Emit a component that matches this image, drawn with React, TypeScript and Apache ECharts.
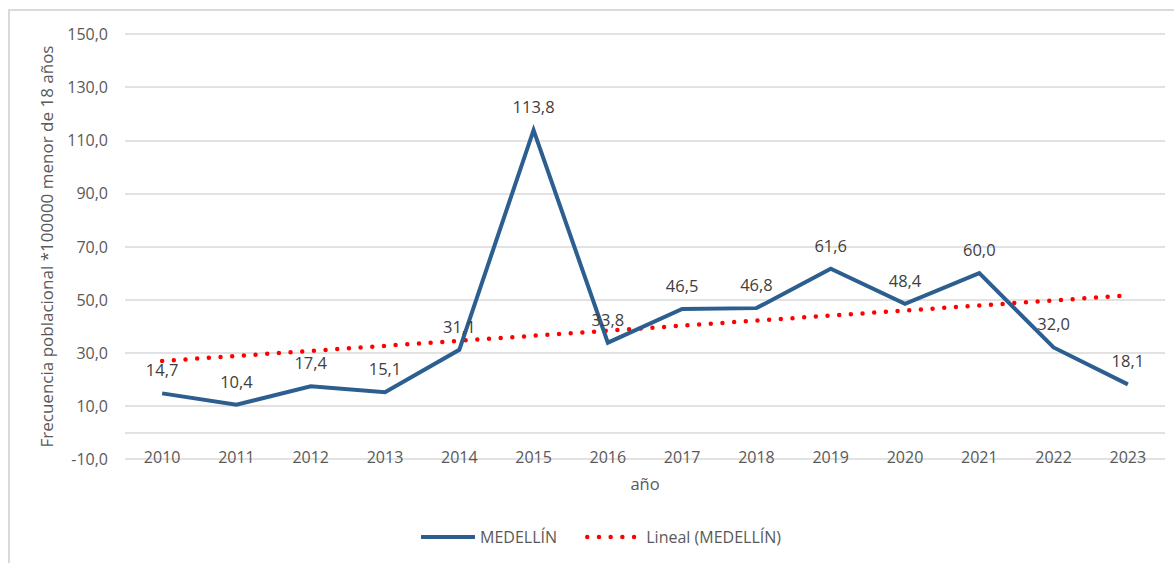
import React, { useEffect, useRef } from "react";
import * as echarts from "echarts";

const years = ["2010", "2011", "2012", "2013", "2014", "2015", "2016", "2017", "2018", "2019", "2020", "2021", "2022", "2023"];
const medellin = [14.7, 10.4, 17.4, 15.1, 31.1, 113.8, 33.8, 46.5, 46.8, 61.6, 48.4, 60.0, 32.0, 18.1];
// Trend line (Lineal) end points
const trendYears = ["2010", "2023"];
const trendValues = [26.9, 51.6];

const FONT = "'Open Sans', 'Liberation Sans', sans-serif";
const fmt = (v: number) => v.toFixed(1).replace(".", ",");

export default function App() {
  const ref = useRef<HTMLDivElement>(null);
  useEffect(() => {
    if (!ref.current) return;
    const chart = echarts.init(ref.current, undefined, { renderer: "svg" });
    chart.setOption({
      animation: false,
      backgroundColor: "#ffffff",
      textStyle: { fontFamily: FONT },
      graphic: [
        {
          type: "rect",
          shape: { x: 9, y: 10, width: 1200, height: 600 },
          style: { fill: "none", stroke: "#d9d9d9", lineWidth: 2 },
          silent: true,
        },
      ],
      grid: { left: 125, right: 9, top: 34, bottom: 104, containLabel: false },
      legend: {
        left: 414,
        top: 524,
        itemWidth: 54,
        itemHeight: 14,
        itemGap: 28,
        itemStyle: { opacity: 0 },
        lineStyle: { width: "inherit" },
        textStyle: { fontFamily: FONT, fontSize: 16, color: "#595959" },
        data: ["MEDELLÍN", "Lineal (MEDELLÍN)"],
      },
      xAxis: {
        type: "category",
        data: years,
        boundaryGap: true,
        axisLine: { show: false, onZero: false },
        axisTick: { show: false },
        axisLabel: {
          fontFamily: FONT,
          fontSize: 16,
          color: "#595959",
          margin: -2,
          verticalAlign: "middle",
        },
        name: "año",
        nameLocation: "middle",
        nameGap: 16,
        nameTextStyle: { fontFamily: FONT, fontSize: 16.5, color: "#595959", verticalAlign: "top" },
      },
      yAxis: {
        type: "value",
        min: -10,
        max: 150,
        interval: 20,
        axisLine: { show: false },
        axisTick: { show: false },
        axisLabel: {
          fontFamily: FONT,
          fontSize: 16,
          color: "#595959",
          margin: 17,
          formatter: (v: number) => fmt(v),
        },
        splitLine: { show: true, lineStyle: { color: "#d9d9d9", width: 1.5 } },
        name: "Frecuencia poblacional *100000 menor de 18 años",
        nameLocation: "middle",
        nameGap: 70,
        nameTextStyle: { fontFamily: FONT, fontSize: 17, color: "#595959" },
      },
      series: [
        {
          name: "MEDELLÍN",
          type: "line",
          data: medellin,
          symbol: "circle",
          symbolSize: 0,
          showSymbol: true,
          z: 3,
          lineStyle: { color: "#2c5f8f", width: 4, join: "miter" },
          itemStyle: { color: "#2c5f8f" },
          label: {
            show: true,
            position: "top",
            distance: 15,
            fontFamily: FONT,
            fontSize: 16.5,
            color: "#404040",
            formatter: (p: any) => fmt(p.value),
          },
          markLine: {
            silent: true,
            symbol: "none",
            label: { show: false },
            lineStyle: { color: "#d9d9d9", width: 1.5, type: "solid" },
            data: [{ yAxis: 0 }],
            z: 1,
          },
        },
        {
          name: "Lineal (MEDELLÍN)",
          type: "line",
          data: trendYears.map((y, i) => [y, trendValues[i]]),
          symbol: "none",
          showSymbol: false,
          z: 2,
          lineStyle: { color: "#ff0000", width: 4.5, type: [0, 11.7], cap: "round" },
          itemStyle: { color: "#ff0000" },
        },
      ],
    });
    return () => chart.dispose();
  }, []);
  return (
    <div
      ref={ref}
      style={{ position: "fixed", left: 0, top: 0, width: 1174, height: 563, background: "#fff" }}
    />
  );
}
